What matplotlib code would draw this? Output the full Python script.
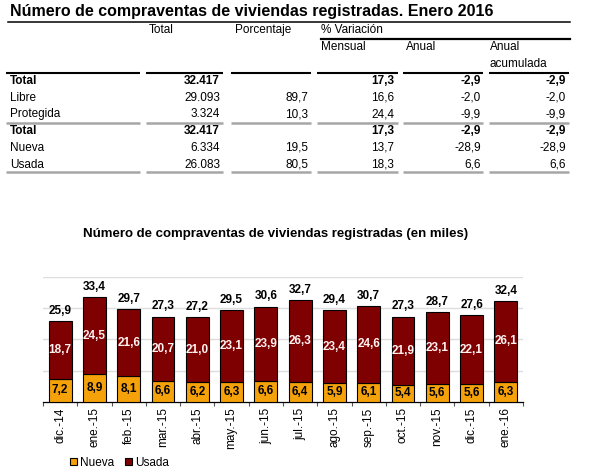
import matplotlib.pyplot as plt
import numpy as np
from matplotlib.patches import Patch

plt.rcParams['font.family'] = ['Liberation Sans', 'DejaVu Sans']

# tabla
filas = ['Total', 'Libre', 'Protegida', 'Total', 'Nueva', 'Usada']
col_total = ['32.417', '29.093', '3.324', '32.417', '6.334', '26.083']
col_porcentaje = ['', '89,7', '10,3', '', '19,5', '80,5']
col_mensual = ['17,3', '16,6', '24,4', '17,3', '13,7', '18,3']
col_anual = ['-2,9', '-2,0', '-9,9', '-2,9', '-28,9', '6,6']
col_acumulada = ['-2,9', '-2,0', '-9,9', '-2,9', '-28,9', '6,6']
filas_negrita = [0, 3]

# grafico
meses = ['dic.-14', 'ene.-15', 'feb.-15', 'mar.-15', 'abr.-15', 'may.-15', 'jun.-15',
         'jul.-15', 'ago.-15', 'sep.-15', 'oct.-15', 'nov.-15', 'dic.-15', 'ene.-16']
nueva = [7.2, 8.9, 8.1, 6.6, 6.2, 6.3, 6.6, 6.4, 5.9, 6.1, 5.4, 5.6, 5.6, 6.3]
usada = [18.7, 24.5, 21.6, 20.7, 21.0, 23.1, 23.9, 26.3, 23.4, 24.6, 21.9, 23.1, 22.1, 26.1]
totales = [25.9, 33.4, 29.7, 27.3, 27.2, 29.5, 30.6, 32.7, 29.4, 30.7, 27.3, 28.7, 27.6, 32.4]

W, H = 592, 475
fig = plt.figure(figsize=(W / 100, H / 100), dpi=100)

# capa en pixeles para la tabla
tab = fig.add_axes([0, 0, 1, 1], zorder=0)
tab.set_xlim(0, W)
tab.set_ylim(H, 0)
tab.axis('off')

tab.text(10, 16, 'Número de compraventas de viviendas registradas. Enero 2016',
         fontsize=11.5, fontweight='bold', va='baseline', ha='left')
tab.plot([8, 570], [21.5, 21.5], color='black', lw=1.1)

fs = 8.5
tab.text(149, 33, 'Total', fontsize=fs, va='baseline')
tab.text(235, 33, 'Porcentaje', fontsize=fs, va='baseline')
tab.text(321, 33, '% Variación', fontsize=fs, va='baseline')
tab.plot([321, 570], [39, 39], color='black', lw=1.6)
tab.text(321, 50, 'Mensual', fontsize=fs, va='baseline')
tab.text(406, 50, 'Anual', fontsize=fs, va='baseline')
tab.text(490, 50, 'Anual', fontsize=fs, va='baseline')
tab.text(490, 67, 'acumulada', fontsize=fs, va='baseline')

segmentos = [(6, 140), (146, 223), (231, 311), (317, 398), (403, 483), (489, 569)]
for a, b in segmentos:
    tab.plot([a, b], [72.7, 72.7], color='black', lw=1.5, solid_capstyle='butt')
    for yl in (122.7, 171.7):
        tab.plot([a, b], [yl, yl], color='#a6a6a6', lw=1.8, solid_capstyle='butt')

bordes = [220, 308, 394, 481, 566]
columnas = [col_total, col_porcentaje, col_mensual, col_anual, col_acumulada]
for i, nombre in enumerate(filas):
    y = 84 + i * 16.7
    peso = 'bold' if i in filas_negrita else 'normal'
    tab.text(10, y, nombre, fontsize=fs, fontweight=peso, va='baseline')
    for xr, col in zip(bordes, columnas):
        tab.text(xr, y, col[i], fontsize=fs, fontweight=peso, va='baseline', ha='right')

# grafico de barras
ax = fig.add_axes([43 / W, 1 - 401.7 / H, 480 / W, 124.8 / H], zorder=1)
ax.patch.set_alpha(0)
x = np.arange(len(meses))
naranja = '#f5a20a'
granate = '#7f0000'
ax.bar(x, nueva, width=0.67, color=naranja, edgecolor='black', lw=0.8, zorder=3)
ax.bar(x, usada, width=0.67, bottom=nueva, color=granate, edgecolor='black', lw=0.8, zorder=3)

for xi, n, u, t in zip(x, nueva, usada, totales):
    ax.text(xi, n / 2, f'{n:.1f}'.replace('.', ','), ha='center', va='center',
            fontsize=8.5, fontweight='bold', color='black', zorder=4)
    ax.text(xi, n + u / 2, f'{u:.1f}'.replace('.', ','), ha='center', va='center',
            fontsize=8.5, fontweight='bold', color='#fff2f2', zorder=4)
    ax.text(xi, n + u + 1.3, f'{t:.1f}'.replace('.', ','), ha='center', va='bottom',
            fontsize=8.5, fontweight='bold', color='black', zorder=4)

ax.set_xlim(-0.5, len(meses) - 0.5)
ax.set_ylim(0, 40)
ax.set_yticks([10, 20, 30, 40])
ax.yaxis.grid(True, color='#dddddd', lw=1)
ax.set_axisbelow(True)
ax.tick_params(axis='y', length=0, labelleft=False)
for s in ('top', 'right', 'left'):
    ax.spines[s].set_visible(False)
ax.spines['bottom'].set_linewidth(0.9)
ax.set_xticks(x)
ax.set_xticklabels(meses, rotation=90, fontsize=8.5)
ax.tick_params(axis='x', which='major', length=0, pad=4)
ax.set_xticks(np.arange(-0.5, len(meses)), minor=True)
ax.tick_params(axis='x', which='minor', length=3, width=0.8, color='#555555')

fig.text(276 / W, 1 - 234 / H, 'Número de compraventas de viviendas registradas (en miles)',
         ha='center', va='center', fontsize=9.5, fontweight='bold')

handles = [Patch(facecolor=naranja, edgecolor='black', lw=0.8, label='Nueva'),
           Patch(facecolor=granate, edgecolor='black', lw=0.8, label='Usada')]
fig.legend(handles=handles, loc='center left', bbox_to_anchor=(64 / W, 1 - 462.7 / H),
           ncol=2, frameon=False, fontsize=8.5, handlelength=0.6, handleheight=0.6,
           handletextpad=0.25, columnspacing=0.9, borderpad=0)

fig.savefig('out.png', dpi=100)
